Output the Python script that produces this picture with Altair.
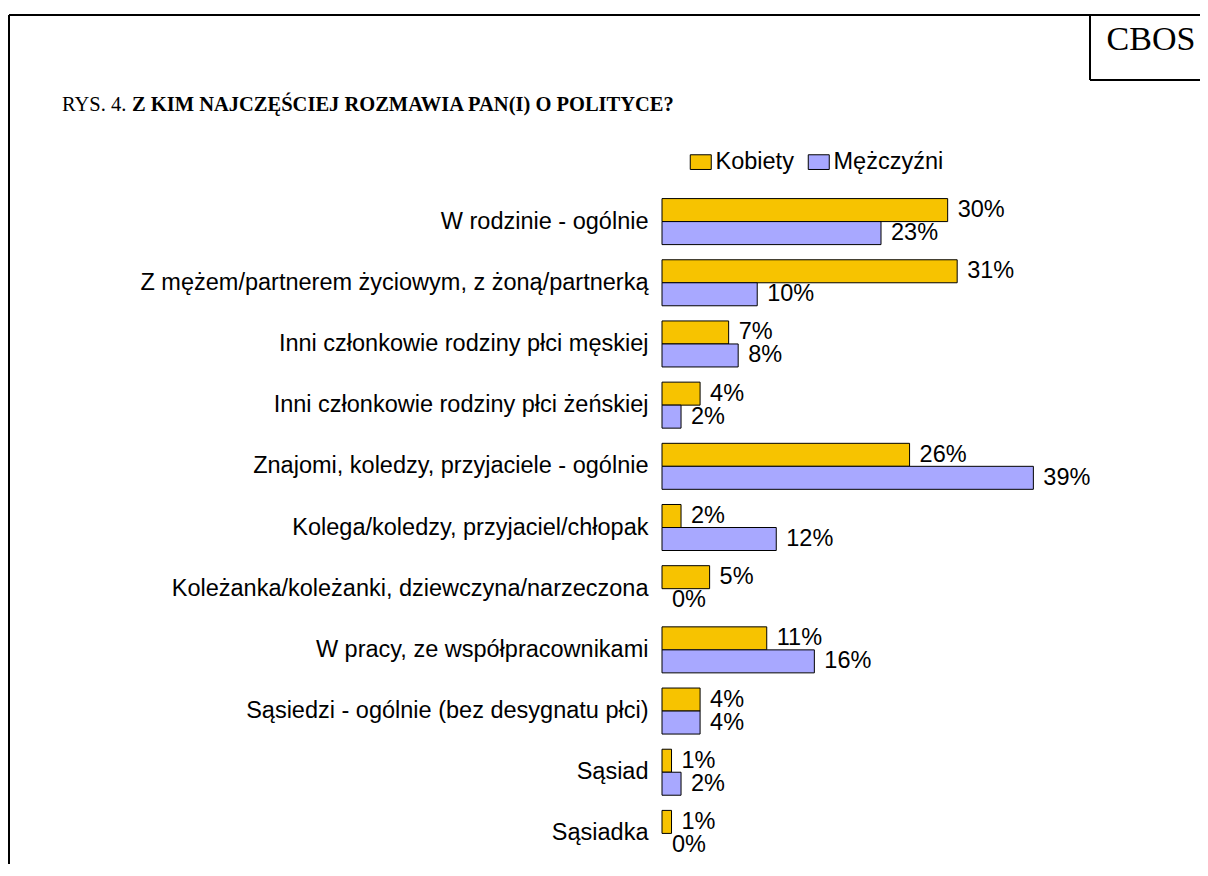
import altair as alt
import pandas as pd

categories = [
    "W rodzinie - ogólnie",
    "Z mężem/partnerem życiowym, z żoną/partnerką",
    "Inni członkowie rodziny płci męskiej",
    "Inni członkowie rodziny płci żeńskiej",
    "Znajomi, koledzy, przyjaciele - ogólnie",
    "Kolega/koledzy, przyjaciel/chłopak",
    "Koleżanka/koleżanki, dziewczyna/narzeczona",
    "W pracy, ze współpracownikami",
    "Sąsiedzi - ogólnie (bez desygnatu płci)",
    "Sąsiad",
    "Sąsiadka",
]
series = ["Kobiety", "Mężczyźni"]
kobiety = [30, 31, 7, 4, 26, 2, 5, 11, 4, 1, 1]
mezczyzni = [23, 10, 8, 2, 39, 12, 0, 16, 4, 2, 0]
colors = ["#F7C300", "#A8A8FF"]

rows = []
for c, k, m in zip(categories, kobiety, mezczyzni):
    rows.append({"kat": c, "seria": series[0], "val": k, "lab": f"{k}%"})
    rows.append({"kat": c, "seria": series[1], "val": m, "lab": f"{m}%"})
df = pd.DataFrame(rows)

W, H = 538, 673
SANS = "Liberation Sans"
SERIF = "Liberation Serif"
FS = 23.5

y_axis = alt.Axis(ticks=False, domain=False, grid=False, labelPadding=14,
                  labelFontSize=FS, labelFont=SANS, labelColor="black",
                  labelLimit=700)
y_scale = alt.Scale(paddingInner=0.248, paddingOuter=0.124)
yoff = alt.YOffset("seria:N", sort=series, scale=alt.Scale(paddingInner=0, paddingOuter=0))
x_enc = alt.X("val:Q", scale=alt.Scale(domain=[0, 56.5], nice=False, zero=True),
              axis=None)

bars = alt.Chart(df).transform_filter("datum.val > 0").mark_bar(
    stroke="black", strokeWidth=1).encode(
    y=alt.Y("kat:N", sort=categories, title=None, scale=y_scale, axis=y_axis),
    yOffset=yoff, x=x_enc,
    color=alt.Color("seria:N", sort=series,
                    scale=alt.Scale(domain=series, range=colors),
                    legend=alt.Legend(title=None, orient="none", legendX=27, legendY=-41,
                                      direction="horizontal",
                                      symbolType="M-1,-0.7H1V0.7H-1Z", symbolSize=441,
                                      symbolStrokeColor="black", symbolStrokeWidth=1,
                                      labelFontSize=FS, labelFont=SANS, labelColor="black",
                                      columnPadding=12, labelOffset=3, padding=0)),
)

labels = alt.Chart(df).mark_text(align="left", baseline="middle", dx=10,
                                 fontSize=FS, font=SANS, color="black").encode(
    y=alt.Y("kat:N", sort=categories, title=None, scale=y_scale, axis=y_axis),
    yOffset=yoff, x=x_enc, text="lab:N")

one = alt.Data(values=[{"a": 1}])

def rule(x1, x2, y1, y2):
    return alt.Chart(one).mark_rule(color="black", strokeWidth=2).encode(
        x=alt.value(x1), x2=alt.value(x2), y=alt.value(y1), y2=alt.value(y2))

frame = [
    rule(-653, -653, -176, H + 20),
    rule(-653, W + 10, -176, -176),
    rule(428, 428, -176, -111),
    rule(428, W + 10, -111, -111),
]

cbos = alt.Chart(one).mark_text(font=SERIF, fontSize=34, align="center",
                                baseline="middle", color="black").encode(
    x=alt.value(489), y=alt.value(-151), text=alt.value("CBOS"))

t1 = alt.Chart(one).mark_text(font=SERIF, fontSize=20.5, align="left",
                              baseline="alphabetic", color="black").encode(
    x=alt.value(-600), y=alt.value(-80), text=alt.value("RYS. 4."))
t2 = alt.Chart(one).mark_text(font=SERIF, fontSize=20.5, fontWeight="bold", align="left",
                              baseline="alphabetic", color="black").encode(
    x=alt.value(-530), y=alt.value(-80),
    text=alt.value("Z KIM NAJCZĘŚCIEJ ROZMAWIA PAN(I) O POLITYCE?"))

chart = alt.layer(bars, labels, *frame, cbos, t1, t2).properties(
    width=W, height=H,
    background="white",
    autosize=alt.AutoSizeParams(type="none"),
    padding={"left": 654, "top": 183, "right": 0, "bottom": 0},
).configure_view(stroke=None).configure_axis(grid=False, domain=False)

chart.save("out.html", embed_options={"renderer": "svg", "actions": False})
